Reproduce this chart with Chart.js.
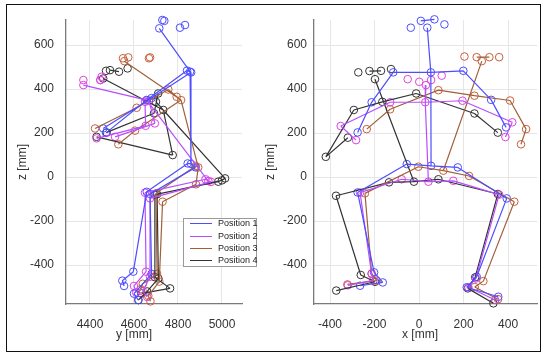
<!DOCTYPE html>
<html><head><meta charset="utf-8">
<script src="https://cdn.jsdelivr.net/npm/chart.js@4/dist/chart.umd.min.js"></script>
<style>
html,body{margin:0;padding:0;background:#fff}
body{width:550px;height:360px;position:relative;overflow:hidden;font-family:"Liberation Sans",Arial,sans-serif}
#frame{position:absolute;left:6px;top:4px;width:535px;height:348px;border:1.5px solid #111;box-sizing:border-box}
#c1{position:absolute;left:0;top:0}
#c2{position:absolute;left:258px;top:0}
.xt{position:absolute;font-size:12px;color:#333;line-height:12px;transform:translateX(-50%);white-space:nowrap}
#legend{position:absolute;left:183px;top:218px;width:74px;height:49px;border:1px solid #999;background:#fff;box-sizing:border-box}
.row{position:absolute;left:0;height:12px;width:74px}
.row .ln{position:absolute;left:6px;top:6px;width:22px;border-top:1.5px solid}
.row .tx{position:absolute;left:34px;top:0;font-size:9px;line-height:12px;color:#222;white-space:nowrap}
</style></head>
<body>
<canvas id="c1" width="258" height="360"></canvas>
<canvas id="c2" width="292" height="360"></canvas>
<div class="xt" style="left:134px;top:328px">y [mm]</div>
<div class="xt" style="left:420px;top:328px">x [mm]</div>
<div id="legend"></div>
<div id="frame"></div>
<script>
// ---------- data ----------
const seriesNames = ['Position 1','Position 2','Position 3','Position 4'];
const lineColors  = ['#4d4dff','#b84dff','#a0603a','#333333'];
const pointColors = ['#4d4dff','#e040e0','#c8603a','#333333'];

const sideTicks  = [4400,4600,4800,5000];
const frontTicks = [-400,-200,0,200,400];
const zTicks     = [-400,-200,0,200,400,600];

// joints: 0 head,1-4 face,5 neck,6-11 shoulders/arms,12 hip centre,13-14 hips,15-16 knees,17-18 ankles,19-22 feet
// front view: [x, z]
const p1Front = [[37,679],[-37,679],[8,710],[69,717],[114,694],[53,476],[-116,476],[199,483],[-213,340],[324,351],[-276,203],[391,226],[54,51],[-55,59],[174,44],[-276,-70],[394,-97],[-202,-433],[259,-453],[-163,-479],[214,-501],[-265,-494],[356,-544]];
const p2Front = [[31,418],[-51,445],[1,433],[54,441],[102,461],[28,340],[-130,340],[195,347],[-352,232],[419,249],[-283,168],[388,182],[42,-21],[-78,-10],[154,-17],[-265,-71],[360,-80],[-213,-441],[255,-461],[-205,-470],[222,-501],[-320,-492],[342,-559]];
const p3Front = [[282,527],[204,548],[259,545],[316,545],[360,545],[87,395],[-130,308],[-235,218],[249,370],[409,348],[481,218],[458,149],[109,29],[-3,47],[225,5],[-243,-74],[428,-112],[-213,-438],[289,-473],[-190,-471],[250,-500],[-322,-488],[355,-555]];
const p4Front = [[-198,445],[-273,476],[-223,482],[-171,483],[-126,491],[-13,380],[-165,342],[249,289],[-293,305],[354,202],[-419,92],[-320,179],[-23,-21],[-135,-24],[87,-10],[-373,-85],[354,-77],[-262,-445],[252,-456],[-198,-476],[219,-506],[-372,-516],[334,-574]];

// side view: [y, z]
const p1Side = [[4715,676],[4729,714],[4738,710],[4809,679],[4832,691],[4855,479],[4841,484],[4860,476],[4658,350],[4680,359],[4473,201],[4460,221],[4859,60],[4844,62],[4880,44],[4658,-67],[4673,-77],[4597,-430],[4680,-440],[4547,-471],[4600,-530],[4555,-495],[4620,-559]];
const p2Side = [[4370,418],[4370,441],[4453,456],[4447,441],[4447,441],[4658,350],[4650,342],[4668,347],[4653,233],[4695,244],[4430,176],[4514,183],[4938,-18],[4925,-10],[4950,-22],[4650,-71],[4673,-97],[4655,-430],[4673,-453],[4600,-495],[4640,-520],[4610,-525],[4660,-545]];
const p3Side = [[4556,527],[4550,540],[4574,544],[4673,544],[4668,540],[4756,398],[4612,315],[4423,221],[4794,365],[4814,350],[4605,211],[4529,149],[4892,44],[4880,50],[4882,-33],[4700,-74],[4730,-112],[4705,-440],[4715,-475],[4640,-485],[4665,-540],[4630,-510],[4675,-565]];
const p4Side = [[4460,448],[4473,483],[4491,486],[4532,479],[4571,494],[4710,380],[4700,342],[4691,290],[4733,305],[4476,203],[4776,100],[4430,183],[5014,-6],[4983,-21],[5000,-15],[4695,-80],[4705,-78],[4695,-455],[4711,-461],[4764,-506],[4660,-520],[4635,-529],[4620,-559]];

// bones (index pairs)
const legBones  = [[13,12],[12,14],[13,15],[14,16],[15,17],[16,18],[17,19],[19,21],[18,20],[20,22]];
const bodyBones = [[0,5],[6,5],[5,7],[6,8],[8,10],[7,9],[9,11],[5,12]];
const p1FrontBones = bodyBones.concat([[2,3]], legBones);
const p1SideBones  = bodyBones.concat(legBones);
const p2FrontBones = bodyBones.concat(legBones);
const p2SideBones  = bodyBones.concat(legBones);
const p3FrontBones = [[2,3],[0,12],[7,6],[6,5],[5,8],[8,9],[9,10],[10,11]].concat(legBones);
const p3SideBones  = [[0,9],[9,12],[7,6],[6,5],[5,8],[8,9],[9,10],[10,11]].concat(legBones);
const p4FrontBones = [[2,3],[0,12],[11,10],[10,8],[8,6],[6,5],[5,7],[7,9]].concat(legBones);
const p4SideBones  = [[2,3],[0,8],[8,12],[8,10],[10,11],[9,7],[6,5],[5,7],[6,8]].concat(legBones);

// ---------- build ----------
function segs(pts, bones){
  const out=[];
  bones.forEach(([a,b])=>{
    out.push({x:pts[a][0],y:pts[a][1]},{x:pts[b][0],y:pts[b][1]},{x:pts[b][0],y:null});
  });
  return out;
}
function datasets(sets){
  const ds=[];
  sets.forEach(([pts,bones],i)=>{
    ds.push({type:'line',data:segs(pts,bones),borderColor:lineColors[i],borderWidth:1.2,pointRadius:0,fill:false,spanGaps:false,tension:0,clip:false});
  });
  sets.forEach(([pts],i)=>{
    ds.push({type:'scatter',data:pts.map(p=>({x:p[0],y:p[1]})),pointRadius:3.8,pointBorderWidth:1,clip:false,
      pointBackgroundColor:'rgba(0,0,0,0)',borderColor:pointColors[i],pointBorderColor:pointColors[i],showLine:false});
  });
  return ds;
}
function config(sets, xr, xticks, padL, yW, padR, tickPadY){
  return {
    type:'scatter',
    data:{datasets:datasets(sets)},
    options:{
      responsive:false,animation:false,
      layout:{padding:{left:padL,top:20,right:padR,bottom:0}},
      plugins:{legend:{display:false},tooltip:{enabled:false}},
      scales:{
        x:{type:'linear',min:xr[0],max:xr[1],
          afterBuildTicks:s=>{s.ticks=xticks.map(v=>({value:v}));},
          afterFit:s=>{s.height=56;},
          grid:{color:'#e6e6e6',drawTicks:false},
          border:{color:'#7a7a7a',width:1.3},
          ticks:{color:'#333',font:{size:12,family:'"Liberation Sans", Arial'},padding:13,callback:v=>String(v)}},
        y:{type:'linear',min:-577,max:714,
          afterBuildTicks:s=>{s.ticks=zTicks.map(v=>({value:v}));},
          afterFit:s=>{s.width=yW;},
          grid:{color:'#e6e6e6',drawTicks:false},
          border:{color:'#7a7a7a',width:1.3},
          title:{display:true,text:'z [mm]',color:'#333',font:{size:12,family:'"Liberation Sans", Arial'},padding:{top:0,bottom:0}},
          ticks:{color:'#333',font:{size:12,family:'"Liberation Sans", Arial'},padding:tickPadY,callback:v=>String(v)}}
      }
    }
  };
}
new Chart(document.getElementById('c1'), config(
  [[p1Side,p1SideBones],[p2Side,p2SideBones],[p3Side,p3SideBones],[p4Side,p4SideBones]],
  [4291,5091], sideTicks, 15, 51, 16, 12));
new Chart(document.getElementById('c2'), config(
  [[p1Front,p1FrontBones],[p2Front,p2FrontBones],[p3Front,p3FrontBones],[p4Front,p4FrontBones]],
  [-472,530], frontTicks, 5, 51, 13, 7));

// legend
const lg=document.getElementById('legend');
const rowCenters=[5.3,17.7,29.7,42];
seriesNames.forEach((n,i)=>{
  const r=document.createElement('div');r.className='row';r.style.top=(rowCenters[i]-6-1)+'px';
  r.innerHTML='<div class="ln" style="border-color:'+lineColors[i]+'"></div><div class="tx">'+n+'</div>';
  lg.appendChild(r);
});
</script>
</body></html>
